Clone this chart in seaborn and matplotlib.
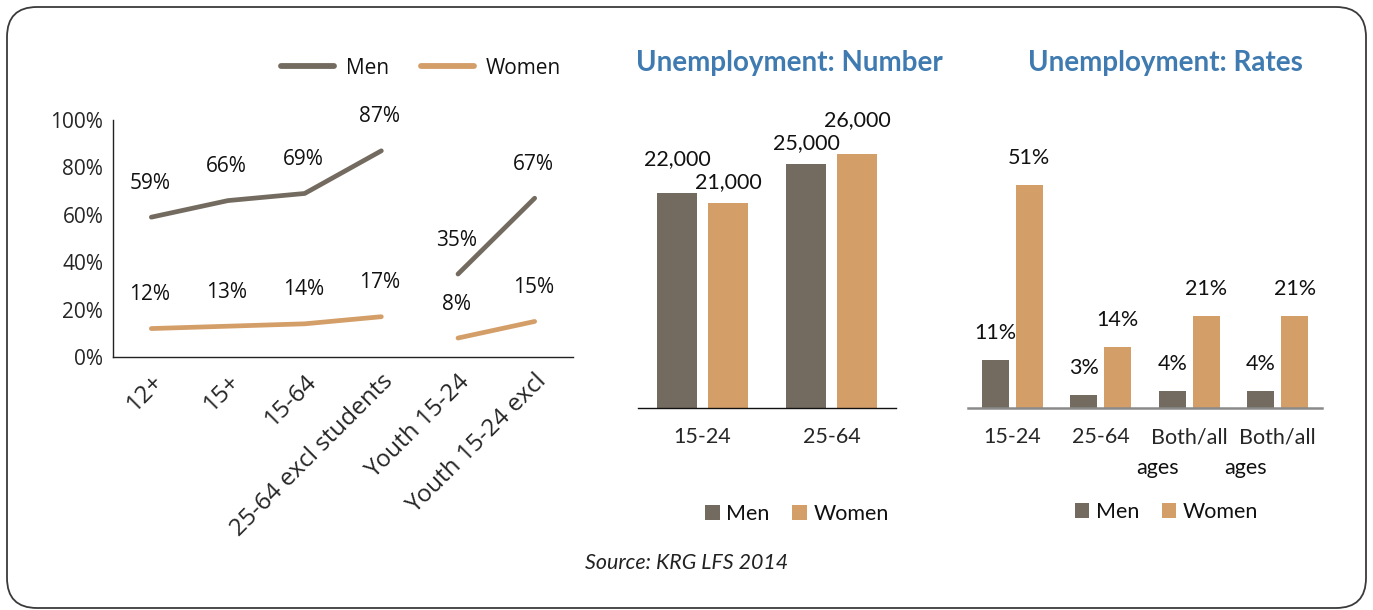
import matplotlib
matplotlib.use("Agg")
import matplotlib.pyplot as plt
from matplotlib.patches import FancyBboxPatch
from matplotlib.lines import Line2D
from matplotlib.patches import Patch
from matplotlib.transforms import IdentityTransform
import seaborn as sns
import pandas as pd

# ---- data -------------------------------------------------------------
age_groups = ["12+", "15+", "15-64", "25-64 excl students",
              "Youth 15-24", "Youth 15-24 excl"]
age_segment = ["All", "All", "All", "All", "Youth", "Youth"]
men_participation = [59, 66, 69, 87, 35, 67]
women_participation = [12, 13, 14, 17, 8, 15]

number_groups = ["15-24", "25-64"]
men_unemployed = [22000, 25000]
women_unemployed = [21000, 26000]

rate_groups = ["15-24", "25-64", "Both/all\nages", "Both/all\nages"]
men_rate = [11, 3, 4, 4]
women_rate = [51, 14, 21, 21]

sexes = ["Men", "Women"]

# ---- style ------------------------------------------------------------
MEN = "#736b5f"
WOMEN = "#d49e69"
TITLE_BLUE = "#3f7bb0"
palette = {"Men": MEN, "Women": WOMEN}

sns.set_theme(style="white")
plt.rcParams["font.family"] = ["Open Sans", "DejaVu Sans"]
plt.rcParams["text.color"] = "#111111"

W, H = 1373, 610
fig = plt.figure(figsize=(W / 100, H / 100), dpi=100)


def box(left, top, right, bottom):
    return [left / W, 1 - bottom / H, (right - left) / W, (bottom - top) / H]


# outer rounded frame
frame = FancyBboxPatch((7, 2), 1359, 601,
                       boxstyle="round,pad=0,rounding_size=30",
                       transform=IdentityTransform(), fill=False,
                       edgecolor="#3a3a3a", linewidth=1.3)
fig.patches.append(frame)

# ---- panel 1: participation lines ------------------------------------
ax1 = fig.add_axes(box(113, 120, 573, 357))
rows = []
for i, (g, seg) in enumerate(zip(age_groups, age_segment)):
    rows.append({"pos": i, "value": men_participation[i] / 100, "sex": "Men", "seg": seg})
    rows.append({"pos": i, "value": women_participation[i] / 100, "sex": "Women", "seg": seg})
part_df = pd.DataFrame(rows)

sns.lineplot(data=part_df, x="pos", y="value", hue="sex", units="seg",
             estimator=None, palette=palette, linewidth=3.4,
             solid_capstyle="round", legend=False, ax=ax1)

for _, r in part_df.iterrows():
    ax1.annotate(f"{r['value'] * 100:.0f}%", (r["pos"], r["value"]),
                 xytext=(-1, 24.5), textcoords="offset points",
                 ha="center", va="center", fontsize=15)

ax1.set_xlim(-0.5, 5.5)
ax1.set_ylim(0, 1.0)
ax1.set_yticks([0, 0.2, 0.4, 0.6, 0.8, 1.0])
ax1.set_yticklabels([f"{v}%" for v in range(0, 101, 20)], fontsize=15)
ax1.set_xticks(range(len(age_groups)))
ax1.set_xticklabels(age_groups, rotation=45, ha="right", va="top",
                    rotation_mode="anchor", fontsize=17.5)
ax1.tick_params(axis="both", length=0)
ax1.tick_params(axis="y", pad=7)
ax1.tick_params(axis="x", pad=9)
ax1.set_xlabel("")
ax1.set_ylabel("")
for s in ["top", "right"]:
    ax1.spines[s].set_visible(False)
for s in ["left", "bottom"]:
    ax1.spines[s].set_color("#222222")
    ax1.spines[s].set_linewidth(1.0)

line_handles = [Line2D([0], [0], color=palette[s], lw=4.2, solid_capstyle="round")
                for s in sexes]
fig.legend(line_handles, sexes, loc="center", ncol=2, frameon=False,
           bbox_to_anchor=(421 / W, 1 - 68 / H), fontsize=15,
           handlelength=2.55, handletextpad=0.6, columnspacing=1.5)

# ---- panel 2: unemployment numbers -----------------------------------
BAR_FONT = ["Lato", "DejaVu Sans"]
ax2 = fig.add_axes(box(638, 115, 896, 408))
num_df = pd.DataFrame({
    "group": number_groups * 2,
    "sex": ["Men"] * 2 + ["Women"] * 2,
    "value": men_unemployed + women_unemployed,
})
sns.barplot(data=num_df, x="group", y="value", hue="sex", palette=palette,
            width=0.79, gap=0.21, legend=False, saturation=1,
            linewidth=0, ax=ax2)
label_lift = {0: [24.5, 15.0], 1: [15.0, 24.5]}
for ci, cont in enumerate(ax2.containers):
    for bi, bar in enumerate(cont):
        v = bar.get_height()
        ax2.annotate(f"{v:,.0f}", (bar.get_x() + bar.get_width() / 2, v),
                     xytext=(0, label_lift[ci][bi]), textcoords="offset points",
                     ha="center", va="center", fontsize=15.5, family=BAR_FONT)
ax2.set_xlim(-0.5, 1.5)
ax2.set_ylim(0, 30000)
ax2.set_yticks([])
ax2.set_xlabel("")
ax2.set_ylabel("")
ax2.tick_params(axis="x", length=0, pad=14)
for t in ax2.get_xticklabels():
    t.set_fontsize(15.5)
    t.set_family(BAR_FONT)
for s in ["top", "right", "left"]:
    ax2.spines[s].set_visible(False)
ax2.spines["bottom"].set_color("#111111")
ax2.spines["bottom"].set_linewidth(1.0)

fig.text(789.5 / W, 1 - 63 / H, "Unemployment: Number", ha="center", va="center",
         fontsize=20, fontweight="bold", color=TITLE_BLUE, family=BAR_FONT)

sq_handles = [Patch(facecolor=palette[s], edgecolor="none") for s in sexes]
fig.legend(sq_handles, sexes, loc="center", ncol=2, frameon=False,
           bbox_to_anchor=(797 / W, 1 - 514 / H),
           prop={"family": BAR_FONT, "size": 15.5},
           handlelength=0.67, handleheight=0.67, handletextpad=0.3,
           columnspacing=1.05)

# ---- panel 3: unemployment rates -------------------------------------
ax3 = fig.add_axes(box(968, 145.5, 1322, 408))
slots = list(range(len(rate_groups)))
rate_df = pd.DataFrame({
    "slot": slots * 2,
    "sex": ["Men"] * len(slots) + ["Women"] * len(slots),
    "value": men_rate + women_rate,
})
sns.barplot(data=rate_df, x="slot", y="value", hue="sex", palette=palette,
            width=0.77, gap=0.21, legend=False, saturation=1,
            linewidth=0, ax=ax3)
for cont in ax3.containers:
    for bar in cont:
        v = bar.get_height()
        ax3.annotate(f"{v:.0f}%", (bar.get_x() + bar.get_width() / 2, v),
                     xytext=(0, 19.4), textcoords="offset points",
                     ha="center", va="center", fontsize=15.5, family=BAR_FONT)
ax3.set_xlim(-0.5, 3.5)
ax3.set_ylim(0, 60)
ax3.set_yticks([])
ax3.set_xlabel("")
ax3.set_ylabel("")
ax3.tick_params(axis="x", length=0, pad=14)
# first line of each category name sits on the tick; a wrapped second
# line hangs below it, pulled slightly to the left
ax3.set_xticks(slots)
ax3.set_xticklabels([g.split("\n")[0] for g in rate_groups])
for t in ax3.get_xticklabels():
    t.set_fontsize(15.5)
    t.set_family(BAR_FONT)
for i, g in enumerate(rate_groups):
    parts = g.split("\n")
    if len(parts) > 1:
        ax3.annotate(parts[1], (i, 0), xycoords=("data", "axes fraction"),
                     xytext=(-38.5, -43), textcoords="offset points",
                     ha="left", va="center", fontsize=15.5, family=BAR_FONT)
for s in ["top", "right", "left"]:
    ax3.spines[s].set_visible(False)
ax3.spines["bottom"].set_color("#8a8a8a")
ax3.spines["bottom"].set_linewidth(1.8)

fig.text(1165.5 / W, 1 - 63 / H, "Unemployment: Rates", ha="center", va="center",
         fontsize=20, fontweight="bold", color=TITLE_BLUE, family=BAR_FONT)

fig.legend(sq_handles, sexes, loc="center", ncol=2, frameon=False,
           bbox_to_anchor=(1166.5 / W, 1 - 512 / H),
           prop={"family": BAR_FONT, "size": 15.5},
           handlelength=0.67, handleheight=0.67, handletextpad=0.3,
           columnspacing=1.05)

# ---- source note -----------------------------------------------------
fig.text(686.5 / W, 1 - 563 / H, "Source: KRG LFS 2014", ha="center", va="center",
         fontsize=15.4, style="italic", family=BAR_FONT, color="#222222")

fig.savefig("out.png", dpi=100)
